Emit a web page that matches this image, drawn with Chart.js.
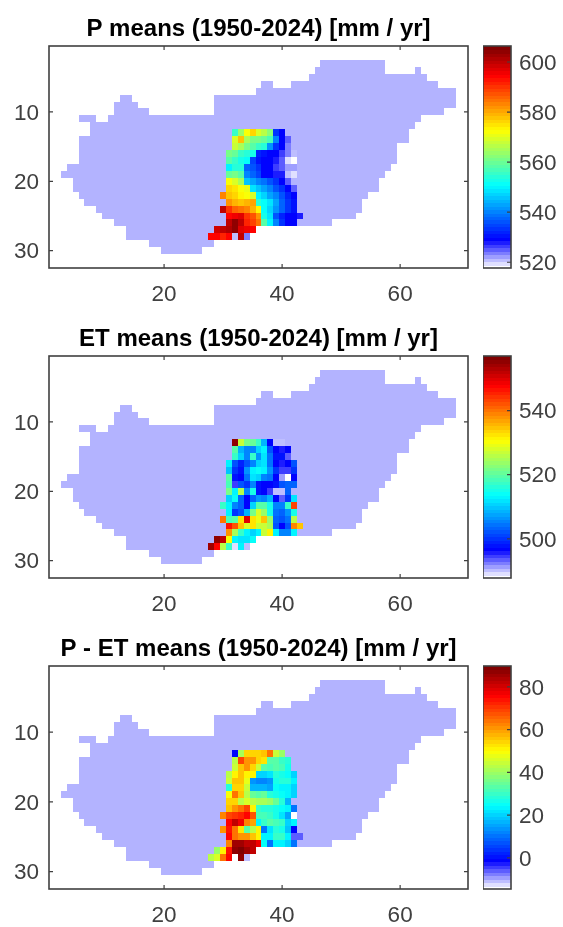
<!DOCTYPE html>
<html>
<head>
<meta charset="utf-8">
<title>Hungary means</title>
<script src="https://cdn.jsdelivr.net/npm/chart.js@4"></script>
<style>
html, body { margin: 0; padding: 0; background: #fff; }
canvas { position: absolute; filter: blur(0.4px); }
</style>
</head>
<body>
<canvas id="map0"></canvas><canvas id="bar0"></canvas>
<canvas id="map1"></canvas><canvas id="bar1"></canvas>
<canvas id="map2"></canvas><canvas id="bar2"></canvas>
<script>
var n = null;

var titles = ['P means (1950-2024) [mm / yr]', 'ET means (1950-2024) [mm / yr]', 'P - ET means (1950-2024) [mm / yr]'];
var mapXTicks = [20, 40, 60];
var mapYTicks = [10, 20, 30];
var barTicks = [[520, 540, 560, 580, 600], [500, 520, 540], [0, 20, 40, 60, 80]];
var colorLimits = [[517.7, 606.4], [487.8, 557], [-14.6, 89.8]];

// [row, first column, last column] of the country outline
var maskSpans = [
 [3,47,57],[4,46,57],[4,63,63],[5,45,64],[6,37,38],[6,42,66],[7,36,69],
 [8,13,14],[8,29,69],[9,12,15],[9,29,69],[10,12,17],[10,29,67],[11,6,8],[11,11,63],
 [12,8,62],[13,8,61],[14,6,61],[15,6,59],[16,6,59],[17,6,59],[18,4,58],[19,3,57],
 [20,5,56],[21,5,56],[22,6,54],[23,7,53],[24,9,53],[25,10,52],[26,12,48],
 [27,14,35],[28,14,34],[29,18,28],[30,20,26]
];

// gridded means: rows 13-28, columns 28-43
var gridFirstRow = 13;
var gridFirstCol = 28;
var pMeans = [
 [n,n,n,n,556,564,572,577,570,567,563,534,529,n,n,n],
 [n,n,n,n,569,578,566,562,562,560,557,540,530,525,n,n],
 [n,n,n,n,568,565,562,558,556,555,542,533,529,524,n,n],
 [n,n,n,561,560,556,555,553,532,531,530,529,527,524,521,n],
 [n,n,n,558,556,553,552,535,531,530,529,528,526,520,517.7,n],
 [n,n,n,550,555,555,538,536,533,530,529,527,526,522,522,n],
 [n,n,n,560,561,559,540,538,535,530,529,528,528,521,520,n],
 [n,n,n,573,569,566,546,544,541,539,537,534,530,526,n,n],
 [n,n,n,576,575,573,571,549,546,543,540,537,534,530,525,n],
 [n,n,584,578,576,574,572,570,550,548,544,540,536,532,530,n],
 [n,n,n,582,580,578,580,581,555,552,549,543,538,534,531,n],
 [n,n,600,591,586,585,584,580,574,551,548,542,538,534,531,n],
 [n,n,n,594,596,597,590,587,582,553,549,537,532,530,529,528],
 [n,n,n,600,605,600,592,589,585,558,550,541,533,530,529,n],
 [n,599,600,601,604,598,596,595,n,n,n,n,n,n,n,n],
 [595,595,592,595,521,600,524,n,n,n,n,n,n,n,n,n]
];
var etMeans = [
 [n,n,n,n,555,527,522,521,518,509,497,491,490,n,n,n],
 [n,n,n,n,520,509,506,506,511,513,502,497,496,497,n,n],
 [n,n,n,n,517,511,506,517,507,512,505,498,498,494,n,n],
 [n,n,n,513,502,499,502,506,511,512,505,497,496,497,502,n],
 [n,n,n,510,500,498,507,513,514,513,507,500,495,495,500,n],
 [n,n,n,520,498,497,505,512,511,506,505,497,492,488,497,n],
 [n,n,n,519,495,502,500,506,498,497,497,498,502,503,504,n],
 [n,n,n,522,513,526,506,515,498,497,495,491,491,503,n,n],
 [n,n,n,511,514,503,497,504,507,506,509,497,494,500,512,n],
 [n,n,517,513,506,503,497,511,520,520,515,506,506,518,543,n],
 [n,n,n,513,500,502,509,522,528,524,515,505,504,507,515,n],
 [n,n,540,519,520,533,550,533,529,535,524,503,502,505,526,n],
 [n,n,n,547,542,535,528,533,527,527,525,502,497,502,539,535],
 [n,n,n,538,525,517,513,511,513,527,532,513,506,506,513,n],
 [n,555,552,531,513,512,512,514,n,n,n,n,n,n,n,n],
 [554,548,526,518,489,513,491,n,n,n,n,n,n,n,n,n]
];
var netMeans = [
 [n,n,n,n,-1,41,54,54,54,56,65,45,40,n,n,n],
 [n,n,n,n,44,69,61,61,54,53,33,34,31,28,n,n],
 [n,n,n,n,45,56,62,54,45,33,32,34,32,27,n,n],
 [n,n,n,44,52,56,52,51,21,20,22,29,27,25,20,n],
 [n,n,n,45,56,56,48,14,13,13,14,27,29,29,23,n],
 [n,n,n,29,54,55,45,18,18,18,16,25,23,24,20,n],
 [n,n,n,50,64,56,43,35,33,35,29,27,25,23,21,n],
 [n,n,n,55,55,44,46,43,42,42,40,35,29,18,n,n],
 [n,n,n,56,61,65,69,51,30,29,29,27,25,23,11,n],
 [n,n,63,69,71,73,76,67,32,32,30,27,22,15,-14.6,n],
 [n,n,n,76,82,77,63,60,24,30,33,32,30,20,24,n],
 [n,n,61,74,65,53,34,44,51,11,22,29,27,19,0,n],
 [n,n,n,76,64,62,61,56,52,24,24,30,31,24,-5,-6],
 [n,n,n,63,85,85,83,82,77,25,11,24,24,20,10,n],
 [n,40,51,74,88,89.8,85,83,n,n,n,n,n,n,n,n],
 [43,46,64,76,-14,87,-10,n,n,n,n,n,n,n,n,n]
];
var grids = [pMeans, etMeans, netMeans];

var panelTops = [46, 356, 666];
var panelHeights = [222, 222, 223];
var maskColor = '#b3b3ff';
var inkColor = '#404040';
var tickFont = { family: '"Liberation Sans", Arial, sans-serif', size: 22.5 };
var levels = 64;

// jet, with the lowest eighth running from white to blue
function cmap(t) {
 t = Math.min(levels - 1, Math.max(0, Math.floor(t * levels))) / (levels - 1);
 if (t < 0.125) {
  var w = Math.round(255 * (1 - t / 0.125));
  return 'rgb(' + w + ',' + w + ',255)';
 }
 var c = function(o) {
  return Math.round(255 * Math.max(0, Math.min(1, 1.5 - Math.abs(4 * t - o))));
 };
 return 'rgb(' + c(3) + ',' + c(2) + ',' + c(1) + ')';
}

// paints each data point as a cell, placed by the chart's scales
var cellPlugin = {
 id: 'cells',
 beforeDatasetsDraw: function(chart) {
  var ctx = chart.ctx, sx = chart.scales.x, sy = chart.scales.y;
  var lim = chart.options.plugins.cells.limits;
  ctx.save();
  chart.data.datasets.forEach(function(ds) {
   ds.data.forEach(function(p) {
    var x0 = Math.round(sx.getPixelForValue(p.x - ds.halfX));
    var x1 = Math.round(sx.getPixelForValue(p.x + ds.halfX));
    var y0 = Math.round(sy.getPixelForValue(p.y - ds.halfY));
    var y1 = Math.round(sy.getPixelForValue(p.y + ds.halfY));
    ctx.fillStyle = p.v === undefined ? maskColor : cmap((p.v - lim[0]) / (lim[1] - lim[0]));
    ctx.fillRect(x0, Math.min(y0, y1), x1 - x0, Math.abs(y1 - y0) + (ds.overlap || 0));
   });
  });
  ctx.restore();
 }
};

// box and inward ticks, matlab style
var framePlugin = {
 id: 'frame',
 afterDatasetsDraw: function(chart) {
  var ctx = chart.ctx, a = chart.chartArea, opt = chart.options.plugins.frame;
  var len = 4;
  ctx.save();
  ctx.strokeStyle = inkColor;
  ctx.lineWidth = 1.6;
  ctx.strokeRect(a.left, a.top, a.right - a.left, a.bottom - a.top);
  ctx.lineWidth = 1.2;
  ctx.beginPath();
  chart.scales.y.ticks.forEach(function(t) {
   var y = chart.scales.y.getPixelForValue(t.value);
   ctx.moveTo(a.right, y); ctx.lineTo(a.right - len, y);
   if (!opt.colorbar) { ctx.moveTo(a.left, y); ctx.lineTo(a.left + len, y); }
  });
  if (!opt.colorbar) {
   chart.scales.x.ticks.forEach(function(t) {
    var x = chart.scales.x.getPixelForValue(t.value);
    ctx.moveTo(x, a.top); ctx.lineTo(x, a.top + len);
    ctx.moveTo(x, a.bottom); ctx.lineTo(x, a.bottom - len);
   });
  }
  ctx.stroke();
  ctx.restore();
 }
};

function setTicks(list) {
 return function(axis) {
  axis.ticks = list.map(function(v) { return { value: v }; });
 };
}

function place(id, left, top, w, h) {
 var el = document.getElementById(id);
 el.width = w; el.height = h;
 el.style.left = left + 'px'; el.style.top = top + 'px';
 el.style.width = w + 'px'; el.style.height = h + 'px';
 return el;
}

function drawMap(i) {
 var mask = [], cells = [];
 maskSpans.forEach(function(s) {
  for (var c = s[1]; c <= s[2]; c++) mask.push({ x: c, y: s[0] });
 });
 grids[i].forEach(function(row, r) {
  row.forEach(function(v, c) {
   if (v !== null) cells.push({ x: gridFirstCol + c, y: gridFirstRow + r, v: v });
  });
 });
 var el = place('map' + i, 0, panelTops[i] - 46, 475, 46 + panelHeights[i] + 42);
 new Chart(el, {
  type: 'scatter',
  data: { datasets: [
   { data: mask, pointRadius: 0, halfX: 0.5, halfY: 0.5 },
   { data: cells, pointRadius: 0, halfX: 0.5, halfY: 0.5 }
  ] },
  plugins: [cellPlugin, framePlugin],
  options: {
   responsive: false,
   animation: false,
   events: [],
   layout: { autoPadding: false, padding: { right: 7 } },
   plugins: {
    legend: { display: false },
    tooltip: { enabled: false },
    cells: { limits: colorLimits[i] },
    frame: { colorbar: false },
    title: {
     display: true,
     text: titles[i],
     fullSize: false,
     color: '#000',
     font: { family: '"Liberation Sans", Arial, sans-serif', size: 24, weight: 'bold', lineHeight: 1 },
     padding: { top: 17, bottom: 5 }
    }
   },
   scales: {
    x: {
     type: 'linear', min: 0.5, max: 71.5,
     grid: { display: false, drawTicks: false }, border: { display: false },
     afterBuildTicks: setTicks(mapXTicks),
     afterFit: function(s) { s.height = 42; },
     ticks: { font: tickFont, color: inkColor, padding: 13, maxRotation: 0, autoSkip: false }
    },
    y: {
     type: 'linear', reverse: true, min: 0.5, max: 32.5,
     grid: { display: false, drawTicks: false }, border: { display: false },
     afterBuildTicks: setTicks(mapYTicks),
     afterFit: function(s) { s.width = 49; },
     ticks: { font: tickFont, color: inkColor, padding: 10, labelOffset: 1.5, autoSkip: false }
    }
   }
  }
 });
}

function drawBar(i) {
 var lim = colorLimits[i], cells = [];
 var step = (lim[1] - lim[0]) / levels;
 for (var k = 0; k < levels; k++) {
  var mid = lim[0] + (k + 0.5) * step;
  cells.push({ x: 1, y: mid, v: mid });
 }
 var el = place('bar' + i, 483, panelTops[i] - 12, 80, panelHeights[i] + 24);
 new Chart(el, {
  type: 'scatter',
  data: { datasets: [{ data: cells, pointRadius: 0, halfX: 0.5, halfY: step / 2, overlap: 1 }] },
  plugins: [cellPlugin, framePlugin],
  options: {
   responsive: false,
   animation: false,
   events: [],
   layout: { autoPadding: false, padding: { top: 12, bottom: 12 } },
   plugins: {
    legend: { display: false },
    tooltip: { enabled: false },
    cells: { limits: lim },
    frame: { colorbar: true }
   },
   scales: {
    x: { type: 'linear', min: 0.5, max: 1.5, display: false, afterFit: function(s) { s.height = 0; } },
    y: {
     type: 'linear', position: 'right', min: lim[0], max: lim[1],
     grid: { display: false, drawTicks: false }, border: { display: false },
     afterBuildTicks: setTicks(barTicks[i]),
     afterFit: function(s) { s.width = 52; s.paddingTop = 0; s.paddingBottom = 0; },
     ticks: { font: tickFont, color: inkColor, padding: 8, labelOffset: 1.5, autoSkip: false }
    }
   }
  }
 });
}

for (var i = 0; i < 3; i++) {
 drawMap(i);
 drawBar(i);
}
</script>
</body>
</html>
